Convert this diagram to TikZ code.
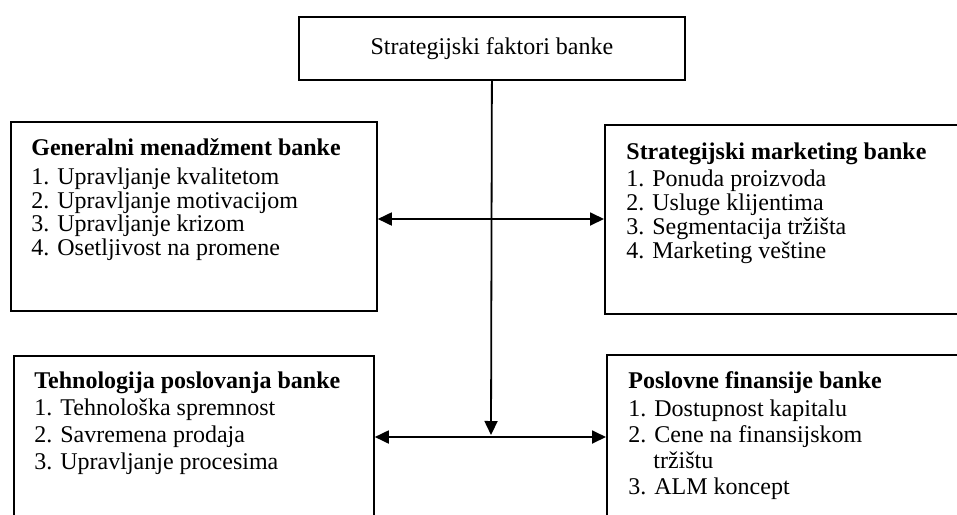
\documentclass[tikz,border=0pt]{standalone}
\usepackage{fontspec}
\setmainfont{Liberation Serif}
\usetikzlibrary{arrows.meta}

\tikzset{
  frame/.style={draw, line width=0.9pt, inner sep=0pt, anchor=north west},
  line/.style={anchor=base west, inner sep=0pt, font=\fontsize{12}{14}\selectfont},
  head/.style={line, font=\fontsize{12}{14}\selectfont\bfseries},
  link/.style={line width=0.9pt, {Triangle[length=7pt,width=6.5pt]}-{Triangle[length=7pt,width=6.5pt]}},
  down/.style={line width=0.9pt, -{Triangle[length=7pt,width=6.5pt]}}
}

\begin{document}
\begin{tikzpicture}[x=0.5pt, y=-0.5pt]
  \useasboundingbox (0,0) rectangle (957,514);
  \clip (0,0) rectangle (957,514);

  % title box
  \node[frame, minimum width=193pt, minimum height=31.5pt,
        font=\fontsize{12}{14}\selectfont] (top) at (298,16) {Strategijski faktori banke};

  % four factor boxes
  \node[frame, minimum width=183pt, minimum height=94.5pt] (gm) at (10,121) {};
  \node[frame, minimum width=183pt, minimum height=94.5pt] (sm) at (604,124) {};
  \node[frame, minimum width=180pt, minimum height=88pt]   (tp) at (13,355) {};
  \node[frame, minimum width=182pt, minimum height=88pt]   (pf) at (606,354) {};

  % general management
  \node[head] (gm0) at (31,155) {Generalni menadžment banke};
  \node[line] (gm1) at (31,184) {1. Upravljanje kvalitetom};
  \node[line] (gm2) at (31,208) {2. Upravljanje motivacijom};
  \node[line] (gm3) at (31,231) {3. Upravljanje krizom};
  \node[line] (gm4) at (31,255) {4. Osetljivost na promene};

  % strategic marketing
  \node[head] (sm0) at (626,159) {Strategijski marketing banke};
  \node[line] (sm1) at (626,186) {1. Ponuda proizvoda};
  \node[line] (sm2) at (626,210) {2. Usluge klijentima};
  \node[line] (sm3) at (626,234) {3. Segmentacija tržišta};
  \node[line] (sm4) at (626,258) {4. Marketing veštine};

  % business technology
  \node[head] (tp0) at (34,388) {Tehnologija poslovanja banke};
  \node[line] (tp1) at (34,415) {1. Tehnološka spremnost};
  \node[line] (tp2) at (34,442) {2. Savremena prodaja};
  \node[line] (tp3) at (34,469) {3. Upravljanje procesima};

  % business finance
  \node[head] (pf0) at (628,388) {Poslovne finansije banke};
  \node[line] (pf1) at (628,416) {1. Dostupnost kapitalu};
  \node[line] (pf2) at (628,442) {2. Cene na finansijskom};
  \node[line] (pf2b) at (653,468) {tržištu};
  \node[line] (pf3) at (628,494) {3. ALM koncept};

  % connectors
  \coordinate (upper) at (491,219);
  \coordinate (lower) at (491,437);
  \coordinate (tip) at (491,435);
  \draw[down] (top.south) -- (tip);
  \draw[link] (gm.east |- upper) -- (sm.west |- upper);
  \draw[link] (tp.east |- lower) -- (pf.west |- lower);
\end{tikzpicture}
\end{document}
